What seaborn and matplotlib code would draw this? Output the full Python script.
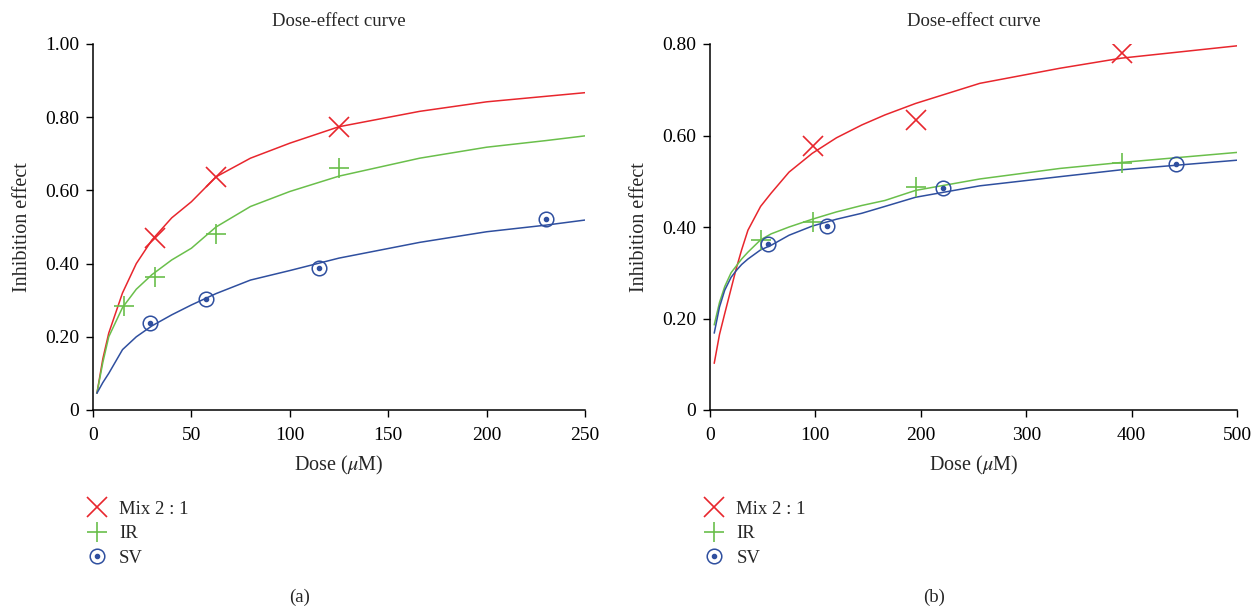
import matplotlib
matplotlib.use("Agg")
import matplotlib.pyplot as plt
import seaborn as sns
import numpy as np
import pandas as pd
from matplotlib.lines import Line2D

# ---- data ----
# panel (a): measured points
a_mix_dose = [31.25, 62.5, 125]
a_mix_eff = [0.469, 0.637, 0.774]
a_ir_dose = [15.625, 31.25, 62.5, 125]
a_ir_eff = [0.284, 0.363, 0.481, 0.660]
a_sv_dose = [28.75, 57.5, 115, 230]
a_sv_eff = [0.237, 0.303, 0.387, 0.521]

# panel (a): fitted curves
a_curve_dose = [2, 5, 8, 15, 22, 30, 40, 50, 62.5, 80, 100, 125, 166, 200, 230, 250]
a_curve_mix = [0.046, 0.14, 0.21, 0.32, 0.40, 0.465, 0.525, 0.569, 0.637, 0.688, 0.729, 0.774, 0.816, 0.842, 0.857, 0.867]
a_curve_ir = [0.046, 0.13, 0.20, 0.28, 0.33, 0.37, 0.41, 0.442, 0.50, 0.556, 0.597, 0.639, 0.688, 0.718, 0.736, 0.749]
a_curve_sv = [0.046, 0.075, 0.10, 0.165, 0.20, 0.23, 0.26, 0.287, 0.318, 0.355, 0.381, 0.415, 0.458, 0.487, 0.505, 0.519]

# panel (b): measured points
b_mix_dose = [97.66, 195.3, 390.6]
b_mix_eff = [0.577, 0.634, 0.781]
b_ir_dose = [48.83, 97.66, 195.3, 390.6]
b_ir_eff = [0.372, 0.412, 0.488, 0.539]
b_sv_dose = [55.31, 110.6, 221.3, 442.5]
b_sv_eff = [0.363, 0.403, 0.485, 0.538]

# panel (b): fitted curves
b_curve_dose = [4, 9, 14, 20, 25, 30, 36, 48, 58, 75, 97, 120, 144, 166, 195, 256, 332, 390, 500]
b_curve_mix = [0.102, 0.165, 0.211, 0.265, 0.31, 0.35, 0.393, 0.445, 0.474, 0.52, 0.561, 0.595, 0.623, 0.645, 0.670, 0.714, 0.747, 0.769, 0.796]
b_curve_ir = [0.186, 0.235, 0.27, 0.30, 0.315, 0.33, 0.345, 0.372, 0.385, 0.40, 0.417, 0.433, 0.447, 0.458, 0.48, 0.505, 0.528, 0.541, 0.563]
b_curve_sv = [0.168, 0.225, 0.262, 0.29, 0.305, 0.318, 0.33, 0.35, 0.36, 0.382, 0.402, 0.417, 0.43, 0.445, 0.465, 0.49, 0.51, 0.525, 0.546]

a_yticks = [0, 0.2, 0.4, 0.6, 0.8, 1.0]
a_ylabels = ["0", "0.20", "0.40", "0.60", "0.80", "1.00"]
b_yticks = [0, 0.2, 0.4, 0.6, 0.8]
b_ylabels = ["0", "0.20", "0.40", "0.60", "0.80"]

RED = "#e8262d"
GREEN = "#6abf4b"
BLUE = "#2f4f9f"

sns.set_style("ticks")
plt.rcParams["font.family"] = ["Liberation Serif", "DejaVu Serif"]
plt.rcParams["mathtext.fontset"] = "stix"
plt.rcParams["font.size"] = 13.5

fig = plt.figure(figsize=(12.6, 6.1), dpi=100)
ax_a = fig.add_axes([93 / 1260, 1 - 410 / 610, 492 / 1260, 366 / 610])
ax_b = fig.add_axes([710 / 1260, 1 - 410 / 610, 527 / 1260, 366 / 610])


def draw_panel(ax, cdose, cmix, cir, csv, md, me, idose, ie, sd, se):
    curves = pd.DataFrame({"dose": cdose, "Mix": cmix, "IR": cir, "SV": csv})
    for col, c in [("Mix", RED), ("IR", GREEN), ("SV", BLUE)]:
        sns.lineplot(data=curves, x="dose", y=col, ax=ax, color=c, lw=1.1)
    ax.plot(md, me, ls="none", marker="x", ms=14, mew=1.2, color=RED)
    ax.plot(idose, ie, ls="none", marker="+", ms=14, mew=1.2, color=GREEN)
    ax.plot(sd, se, ls="none", marker="o", ms=10.5, mew=1.1, mfc="none", mec=BLUE)
    ax.plot(sd, se, ls="none", marker="o", ms=3, color=BLUE)
    ax.set_title("Dose-effect curve", fontsize=13.5, pad=13)
    ax.set_xlabel("Dose ($\\mu$M)", fontsize=14.5, labelpad=7)
    ax.set_ylabel("Inhibition effect", fontsize=14.5, labelpad=9)
    sns.despine(ax=ax)
    ax.tick_params(direction="out", length=5, width=1, labelsize=14, colors="black")
    ax.tick_params(axis="x", pad=7.5)
    ax.tick_params(axis="y", pad=5)
    for s in ax.spines.values():
        s.set_linewidth(1.1)
        s.set_color("black")


draw_panel(ax_a, a_curve_dose, a_curve_mix, a_curve_ir, a_curve_sv,
           a_mix_dose, a_mix_eff, a_ir_dose, a_ir_eff, a_sv_dose, a_sv_eff)
ax_a.set_xlim(0, 250)
ax_a.set_ylim(0, 1.0)
ax_a.set_xticks([0, 50, 100, 150, 200, 250])
ax_a.set_yticks(a_yticks)
ax_a.set_yticklabels(a_ylabels)

draw_panel(ax_b, b_curve_dose, b_curve_mix, b_curve_ir, b_curve_sv,
           b_mix_dose, b_mix_eff, b_ir_dose, b_ir_eff, b_sv_dose, b_sv_eff)
ax_b.set_xlim(0, 500)
ax_b.set_ylim(0, 0.8)
ax_b.set_xticks([0, 100, 200, 300, 400, 500])
ax_b.set_yticks(b_yticks)
ax_b.set_yticklabels(b_ylabels)

# legends below each panel
h_mix = Line2D([], [], ls="none", marker="x", ms=14, mew=1.2, color=RED)
h_ir = Line2D([], [], ls="none", marker="+", ms=14, mew=1.2, color=GREEN)
h_sv_ring = Line2D([], [], ls="none", marker="o", ms=10.5, mew=1.1, mfc="none", mec=BLUE)
h_sv_dot = Line2D([], [], ls="none", marker="o", ms=3, color=BLUE)
labels = ["Mix 2 : 1", "IR", "SV"]
for x0 in [78 / 1260, 695 / 1260]:
    fig.legend([h_mix, h_ir, (h_sv_ring, h_sv_dot)], labels,
               loc="upper left", bbox_to_anchor=(x0, 1 - 493 / 610),
               frameon=False, fontsize=13.5, handlelength=1.2, handletextpad=0.6,
               labelspacing=0.4, borderaxespad=0)

fig.text(300 / 1260, 1 - 597 / 610, "(a)", ha="center", va="center", fontsize=13.5)
fig.text(934 / 1260, 1 - 597 / 610, "(b)", ha="center", va="center", fontsize=13.5)

fig.savefig("out.png", dpi=100)
